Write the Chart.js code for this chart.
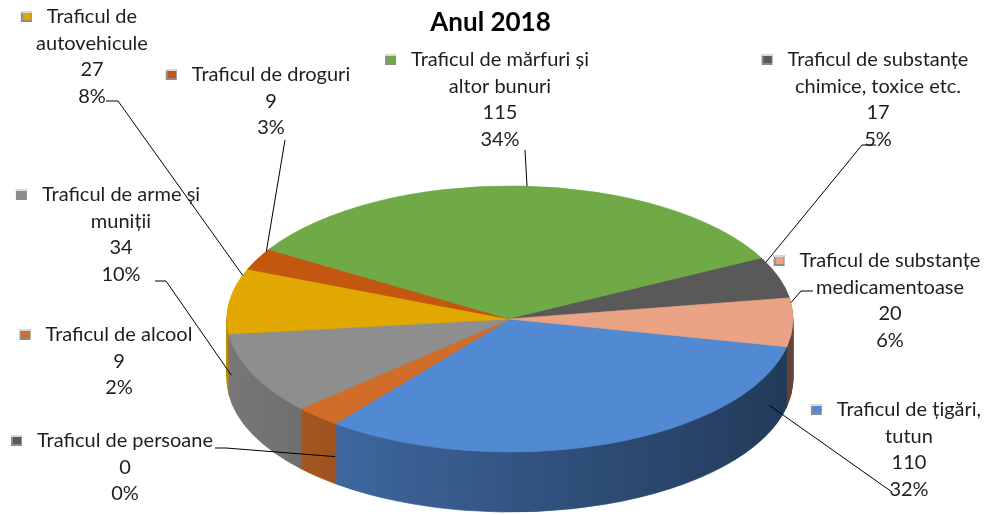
<!DOCTYPE html>
<html>
<head>
<meta charset="utf-8">
<script src="https://cdn.jsdelivr.net/npm/chart.js@4.4.0/dist/chart.umd.min.js"></script>
<style>
  html, body { margin: 0; padding: 0; background: #fff; }
  #wrap { width: 993px; height: 515px; }
</style>
</head>
<body>
<div id="wrap"><canvas id="pieChart"></canvas></div>
<script>
// Data (clockwise from the big blue slice)
const categories = [
  'Traficul de țigări,\ntutun',
  'Traficul de persoane',
  'Traficul de alcool',
  'Traficul de arme și\nmuniții',
  'Traficul de\nautovehicule',
  'Traficul de droguri',
  'Traficul de mărfuri și\naltor bunuri',
  'Traficul de substanțe\nchimice, toxice etc.',
  'Traficul de substanțe\nmedicamentoase'
];
const cases = [110, 0, 9, 34, 27, 9, 115, 17, 20];
const percents = ['32%', '0%', '2%', '10%', '8%', '3%', '34%', '5%', '6%'];
const colors = ['#5289d3', '#5a5a5a', '#d06d28', '#8e8e8e', '#e0a800', '#c4570f', '#70aa46', '#595959', '#eaa385'];

// Layout
const PIE_X = 510, PIE_Y = 319, RADIUS = 283, TILT = 0.47, DEPTH = 60;
const FONT = "'Lato', sans-serif";
const LINE_H = 26.5;
const labelPos = [
  { x: 909, y: 410, lead: [[892, 492]] },
  { x: 125, y: 441, lead: [[215, 448], [226, 448]] },
  { x: 119, y: 335, lead: null },
  { x: 121, y: 195, lead: [[155, 281], [166, 281]] },
  { x: 92,  y: 17,  lead: [[106, 101], [118, 101]] },
  { x: 271, y: 75,  lead: [[285, 140]] },
  { x: 500, y: 60,  lead: [[525, 150]] },
  { x: 878, y: 60,  lead: [[876, 145], [862, 145]] },
  { x: 890, y: 261, lead: [[813, 291], [801, 291]] }
];

function shade(hex, f) {
  const n = parseInt(hex.slice(1), 16);
  const r = Math.round(((n >> 16) & 255) * f);
  const g = Math.round(((n >> 8) & 255) * f);
  const b = Math.round((n & 255) * f);
  return `rgb(${r},${g},${b})`;
}

function tilt(ctx, arc, dy) {
  ctx.translate(PIE_X, PIE_Y + dy);
  ctx.scale(1, TILT);
  ctx.translate(-arc.x, -arc.y);
}

function drawWith(ctx, arc, opts) {
  const p = Object.create(arc);
  p.options = Object.assign({}, arc.options, opts);
  p.draw(ctx);
}

// 3D look: squash the pie and stack darker copies underneath
const pie3d = {
  id: 'pie3d',
  beforeDatasetsDraw(chart) {
    const ctx = chart.ctx;
    const arcs = chart.getDatasetMeta(0).data;
    const a0 = arcs[0];
    const sides = arcs.map((arc, i) => {
      const g = ctx.createLinearGradient(a0.x - RADIUS, 0, a0.x + RADIUS, 0);
      g.addColorStop(0, shade(colors[i], 0.84));
      g.addColorStop(0.5, shade(colors[i], 0.62));
      g.addColorStop(1, shade(colors[i], 0.42));
      return g;
    });
    for (let d = DEPTH; d > 0; d--) {
      ctx.save();
      tilt(ctx, a0, d);
      arcs.forEach((arc, i) => drawWith(ctx, arc, { backgroundColor: sides[i], borderColor: sides[i], borderWidth: 1 }));
      ctx.restore();
    }
    ctx.save();
    tilt(ctx, a0, 0);
    arcs.forEach(arc => arc.draw(ctx));
    ctx.restore();
    return false;
  }
};

function rimPoint(arc, ax, ay) {
  const span = arc.endAngle - arc.startAngle;
  let best = null, bd = Infinity;
  for (let t = 0.1; t <= 0.9001; t += 0.01) {
    const a = arc.startAngle + span * t;
    const s = Math.sin(a);
    const px = PIE_X + RADIUS * Math.cos(a);
    const py = PIE_Y + RADIUS * TILT * s + (s > 0 ? DEPTH * 0.55 : 0);
    const dd = (px - ax) ** 2 + (py - ay) ** 2;
    if (dd < bd) { bd = dd; best = [px, py]; }
  }
  return best;
}

const pieLabels = {
  id: 'pieLabels',
  afterDraw(chart) {
    const ctx = chart.ctx;
    const arcs = chart.getDatasetMeta(0).data;
    ctx.save();
    // leader lines
    ctx.strokeStyle = '#000';
    ctx.lineWidth = 1;
    arcs.forEach((arc, i) => {
      const lead = labelPos[i].lead;
      if (!lead) return;
      const last = lead[lead.length - 1];
      const end = rimPoint(arc, last[0], last[1]);
      ctx.beginPath();
      ctx.moveTo(lead[0][0], lead[0][1]);
      lead.slice(1).forEach(p => ctx.lineTo(p[0], p[1]));
      ctx.lineTo(end[0], end[1]);
      ctx.stroke();
    });
    // texts
    ctx.font = `20px ${FONT}`;
    ctx.textAlign = 'center';
    ctx.textBaseline = 'middle';
    categories.forEach((name, i) => {
      const pos = labelPos[i];
      const lines = name.split('\n').concat([String(cases[i]), percents[i]]);
      ctx.fillStyle = '#1e1e1e';
      lines.forEach((ln, k) => ctx.fillText(ln, pos.x, pos.y + k * LINE_H));
      // legend key
      const w = ctx.measureText(lines[0]).width;
      const kx = pos.x - w / 2 - 26, ky = pos.y - 6;
      ctx.fillStyle = '#8c8c8c';
      ctx.fillRect(kx, ky, 11, 11);
      ctx.fillStyle = '#d9d9d9';
      ctx.fillRect(kx, ky, 11, 2);
      ctx.fillStyle = colors[i];
      ctx.fillRect(kx + 2, ky + 2, 8, 7);
    });
    ctx.restore();
  }
};

new Chart(document.getElementById('pieChart').getContext('2d'), {
  type: 'pie',
  data: {
    labels: categories,
    datasets: [{
      data: cases,
      backgroundColor: colors,
      borderColor: colors,
      borderWidth: 1
    }]
  },
  options: {
    responsive: true,
    maintainAspectRatio: false,
    animation: false,
    rotation: 102,
    radius: RADIUS,
    layout: { padding: { right: 12 } },
    plugins: {
      legend: { display: false },
      tooltip: { enabled: false },
      title: {
        display: true,
        text: 'Anul 2018',
        color: '#000',
        font: { family: FONT, size: 26, weight: 'bold' },
        padding: { top: 7, bottom: 0 }
      }
    }
  },
  plugins: [pie3d, pieLabels]
});
</script>
</body>
</html>
